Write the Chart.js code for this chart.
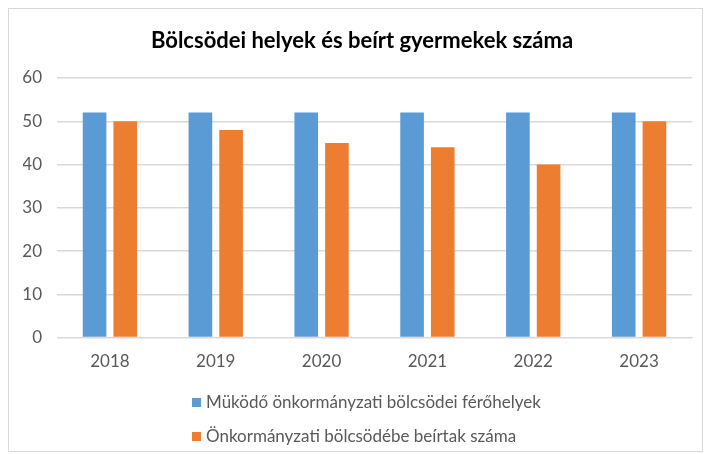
<!DOCTYPE html>
<html>
<head>
<meta charset="utf-8">
<script src="https://cdn.jsdelivr.net/npm/chart.js@4/dist/chart.umd.min.js"></script>
<style>
  body { margin: 0; background: #fff; }
  #wrap { position: absolute; left: 8px; top: 8px; width: 695px; height: 444px; border: 1px solid #d9d9d9; box-sizing: border-box; }
</style>
</head>
<body>
<div id="wrap"><canvas id="myChart"></canvas></div>
<script>
// adatok
const years = ['2018', '2019', '2020', '2021', '2022', '2023'];
const ferohelyek = [52, 52, 52, 52, 52, 52];
const beirtak = [50, 48, 45, 44, 40, 50];
const seriesNames = ['Müködő önkormányzati bölcsödei férőhelyek', 'Önkormányzati bölcsödébe beírtak száma'];
const chartTitle = 'Bölcsödei helyek és beírt gyermekek száma';
const colors = ['#5b9bd5', '#ed7d31'];

const fontFam = 'Lato, "Open Sans", sans-serif';

// cím + alul a jelmagyarázat, két sorban
const textPlugin = {
  id: 'myTexts',
  afterDraw(chart) {
    const ctx = chart.ctx;
    ctx.save();
    // cím
    ctx.font = 'bold 22px ' + fontFam;
    ctx.fillStyle = '#000';
    ctx.textAlign = 'center';
    ctx.textBaseline = 'middle';
    ctx.fillText(chartTitle, 353, 32);

    // jelmagyarázat
    ctx.font = '17px ' + fontFam;
    ctx.textAlign = 'left';
    const x = 183;
    const ys = [393, 427];
    for (let i = 0; i < seriesNames.length; i++) {
      ctx.fillStyle = colors[i];
      ctx.fillRect(x, ys[i] - 4, 9, 9);
      ctx.fillStyle = '#595959';
      ctx.fillText(seriesNames[i], x + 14, ys[i] + 1);
    }
    ctx.restore();
  }
};

const ctx = document.getElementById('myChart');
new Chart(ctx, {
  type: 'bar',
  data: {
    labels: years,
    datasets: [
      { label: seriesNames[0], data: ferohelyek, backgroundColor: colors[0] },
      { label: seriesNames[1], data: beirtak, backgroundColor: colors[1] }
    ]
  },
  options: {
    responsive: true,
    maintainAspectRatio: false,
    animation: false,
    layout: { padding: { left: 14, right: 10, top: 69, bottom: 73 } },
    categoryPercentage: 0.58,
    barPercentage: 0.77,
    plugins: {
      legend: { display: false },
      tooltip: { enabled: false },
      title: { display: false }
    },
    scales: {
      x: {
        grid: { display: false },
        border: { color: '#d9d9d9' },
        ticks: { color: '#595959', font: { family: fontFam, size: 17 }, padding: 6 }
      },
      y: {
        min: 0, max: 60,
        afterFit: (scale) => { scale.width = 34; },
        ticks: { stepSize: 10, color: '#595959', font: { family: fontFam, size: 17 }, padding: 15 },
        grid: { color: '#d9d9d9', lineWidth: 1.5, drawTicks: false },
        border: { display: false }
      }
    }
  },
  plugins: [textPlugin]
});
</script>
</body>
</html>
